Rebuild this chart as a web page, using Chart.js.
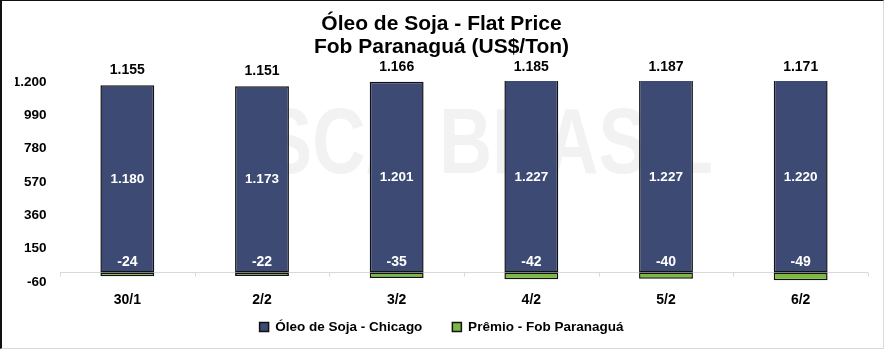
<!DOCTYPE html>
<html><head><meta charset="utf-8">
<script src="https://cdn.jsdelivr.net/npm/chart.js@4"></script>
<style>
html,body{margin:0;padding:0;background:#fff;}
#wrap{position:relative;width:885px;height:350px;}
#frame{position:absolute;left:0;top:0;width:884px;height:349px;box-sizing:border-box;border-top:1px solid #111;border-left:2px solid #111;border-right:1px solid #d9d9d9;border-bottom:1px solid #d9d9d9;pointer-events:none;}
</style></head>
<body><div id="wrap"><canvas id="c" width="885" height="350"></canvas><div id="frame"></div></div>
<script>
const categories = ['30/1','2/2','3/2','4/2','5/2','6/2'];
const chicago = [1180,1173,1201,1227,1227,1220];
const premio = [-24,-22,-35,-42,-40,-49];
const totals = [1155,1151,1166,1185,1187,1171];
const yTicks = [-60,150,360,570,780,990,1200];
const seriesNames = ['Óleo de Soja - Chicago','Prêmio - Fob Paranaguá'];
const titleLines = ['Óleo de Soja - Flat Price','Fob Paranaguá (US$/Ton)'];
const watermark = 'SCA BRASIL';

const FONT = '"Liberation Sans", Arial, sans-serif';
const NAVY = '#3d4a74';
const GREEN = '#7cb943';

function fmt(v){
  const s = Math.abs(v).toString().replace(/\B(?=(\d{3})+(?!\d))/g,'.');
  return (v<0?'-':'')+s;
}

const labelPlugin = {
  id:'customLabels',
  beforeDatasetsDraw(chart){
    const {ctx, chartArea:a, scales:{y}} = chart;
    ctx.save();
    ctx.fillStyle='#f2f2f2';
    ctx.font='bold 92px '+FONT;
    ctx.textAlign='center'; ctx.textBaseline='alphabetic';
    ctx.translate(488,173); ctx.scale(0.8,1);
    ctx.fillText(watermark,0,0);
    ctx.restore();
    ctx.save();
    const y0 = Math.round(y.getPixelForValue(0))+0.5;
    ctx.strokeStyle='#d9d9d9'; ctx.lineWidth=1;
    ctx.beginPath(); ctx.moveTo(a.left,y0); ctx.lineTo(a.right,y0);
    const n = categories.length, w=(a.right-a.left)/n;
    for(let k=0;k<=n;k++){const xx=Math.round(a.left+k*w)+0.5; ctx.moveTo(xx,y0); ctx.lineTo(xx,y0+4);}
    ctx.stroke(); ctx.restore();
  },
  afterDatasetsDraw(chart){
    const {ctx, chartArea:a, scales:{y}} = chart;
    const m0 = chart.getDatasetMeta(0);
    const y0 = y.getPixelForValue(0);
    ctx.save(); ctx.textAlign='center'; ctx.textBaseline='middle';
    m0.data.forEach((bar,i)=>{
      const top = Math.max(bar.y, a.top);
      ctx.fillStyle='#fff';
      ctx.font='bold 13.5px '+FONT;
      ctx.fillText(fmt(chicago[i]), bar.x, (top+bar.base)/2);
      ctx.font='bold 14px '+FONT;
      ctx.fillText(fmt(premio[i]), bar.x, y0-10);
      ctx.fillStyle='#000';
      ctx.fillText(fmt(totals[i]), bar.x, top-15);
    });
    ctx.restore();
  }
};

new Chart(document.getElementById('c'), {
  type:'bar',
  data:{
    labels: categories,
    datasets:[
      {label:seriesNames[0], data:chicago, backgroundColor:NAVY, borderColor:'#111', borderWidth:1.5, borderSkipped:false, stack:'s', clip:{left:false,right:false,bottom:false,top:1}},
      {label:seriesNames[1], data:premio, backgroundColor:GREEN, borderColor:'#111', borderWidth:1.5, borderSkipped:false, stack:'s', clip:{left:false,right:false,bottom:false,top:1}}
    ]
  },
  options:{
    responsive:false, animation:false, devicePixelRatio:1,
    layout:{padding:{left:15,right:17,top:0,bottom:6.25}},
    categoryPercentage:0.8, barPercentage:0.5,
    scales:{
      x:{
        stacked:true,
        grid:{display:false, drawTicks:false},
        border:{display:false},
        ticks:{color:'#000', font:{family:FONT, size:14, weight:'bold'}, padding:10},
        afterFit(s){ s.height = 27; }
      },
      y:{
        stacked:true, min:-60, max:1200,
        grid:{display:false, drawTicks:false},
        border:{display:false},
        afterBuildTicks(s){ s.ticks = yTicks.map(v=>({value:v})); },
        ticks:{color:'#000', font:{family:FONT, size:13.5, weight:'bold'}, padding:13.5, callback:(v)=>fmt(v)},
        afterFit(s){ s.width = 45; }
      }
    },
    plugins:{
      title:{display:true, text:titleLines, color:'#000', font:{family:FONT, size:21, weight:'bold', lineHeight:1.1}, padding:{top:13,bottom:22.8}},
      legend:{display:true, position:'bottom', labels:{
        boxWidth:9, boxHeight:9, padding:11.25, color:'#000', font:{family:FONT, size:13.5, weight:'bold'},
        generateLabels(chart){
          const items = Chart.defaults.plugins.legend.labels.generateLabels(chart);
          items.forEach((it,i)=>{ if(i < items.length-1) it.text = it.text + '     '; });
          return items;
        }
      }},
      tooltip:{enabled:false}
    }
  },
  plugins:[labelPlugin]
});
</script>
</body></html>
